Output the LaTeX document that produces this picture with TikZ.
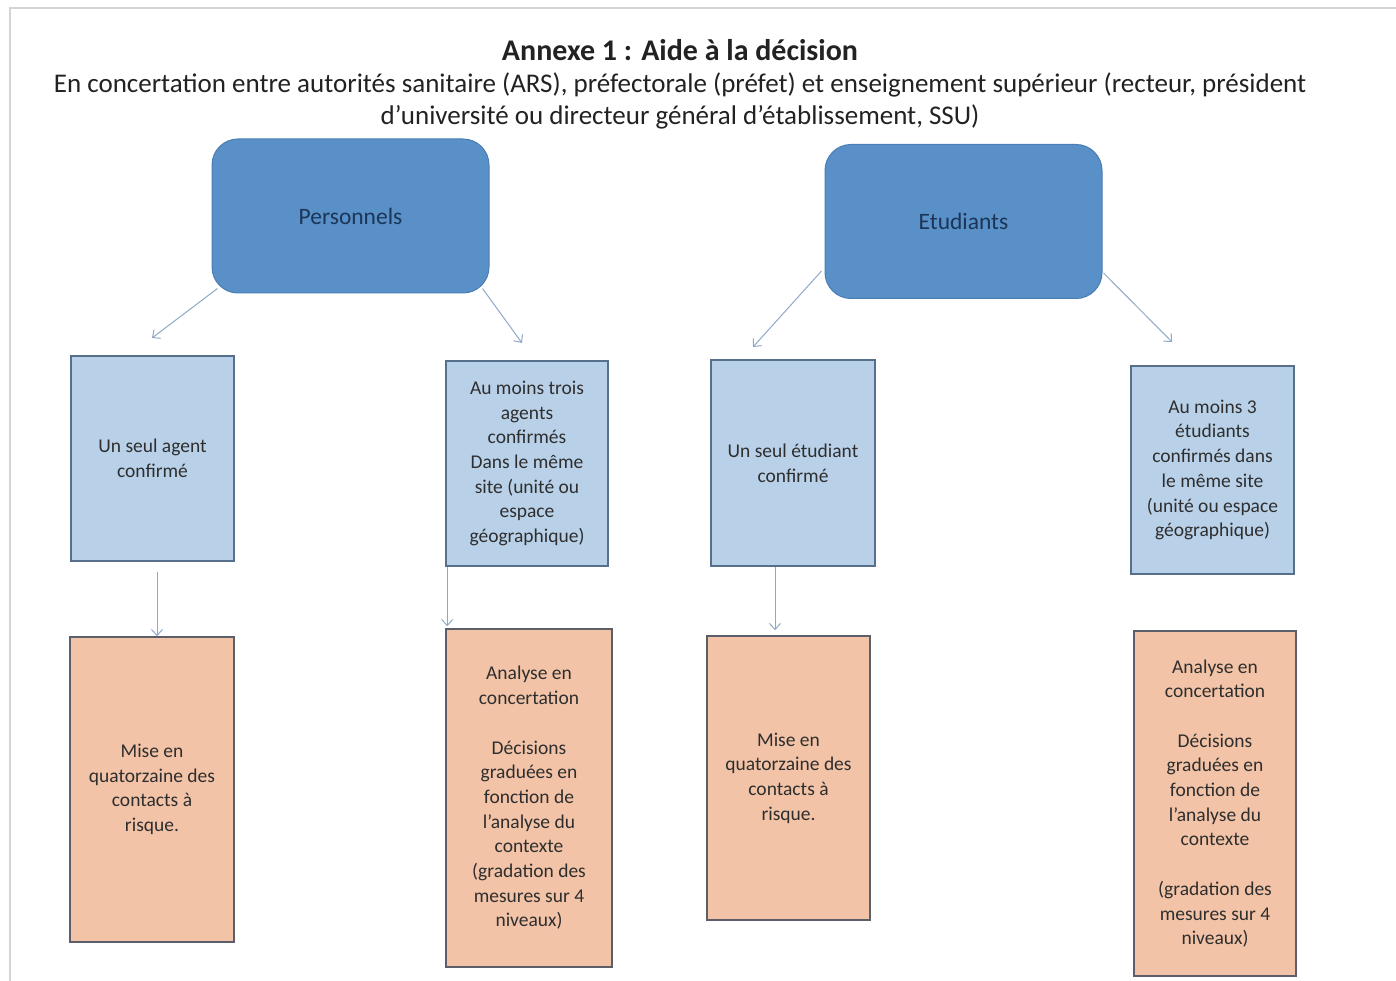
\documentclass[tikz,border=0pt]{standalone}
\usepackage{fontspec}
\setmainfont{Carlito}
\usetikzlibrary{arrows.meta}
\definecolor{framegray}{HTML}{D4D4D4}
\definecolor{titlecol}{HTML}{222222}
\definecolor{bigfill}{HTML}{5990C8}
\definecolor{bigdraw}{HTML}{4A7DB3}
\definecolor{bigtext}{HTML}{1C3557}
\definecolor{lbfill}{HTML}{B9D1E8}
\definecolor{lbdraw}{HTML}{56708C}
\definecolor{sfill}{HTML}{F2C3A7}
\definecolor{sdraw}{HTML}{5A5F6A}
\definecolor{boxtext}{HTML}{2E2E2E}
\definecolor{arrcol}{HTML}{8FA9C8}
\tikzset{
  bigbox/.style={rectangle, rounded corners=26pt, fill=bigfill, draw=bigdraw, line width=1pt,
    minimum width=277pt, minimum height=154pt, inner sep=0pt, text=bigtext,
    font=\fontsize{23.5}{27}\selectfont},
  lbox/.style={rectangle, fill=lbfill, draw=lbdraw, line width=1.6pt, inner sep=0pt,
    align=center, text=boxtext, font=\fontsize{19.5}{24.7}\selectfont},
  sbox/.style={rectangle, fill=sfill, draw=sdraw, line width=1.6pt, inner sep=0pt,
    align=center, text=boxtext, font=\fontsize{19.5}{24.7}\selectfont},
  arr/.style={draw=arrcol, line width=1pt, -{Straight Barb[length=6pt,width=11pt]}},
}
\begin{document}
\begin{tikzpicture}[x=1pt,y=-1pt]
\useasboundingbox (0,0) rectangle (1396,981);
\fill[white] (0,0) rectangle (1396,981);
\draw[framegray, line width=1.2pt] (10,981) -- (10,8) -- (1396,8);
% titles
\node[font=\fontsize{30}{34}\selectfont\bfseries, text=titlecol] (title) at (680,50) {Annexe 1 : Aide à la décision};
\node[font=\fontsize{27}{32}\selectfont, text=titlecol, align=center] (sub) at (680,101)
  {En concertation entre autorités sanitaire (ARS), préfectorale (préfet) et enseignement supérieur (recteur, président\\
   d’université ou directeur général d’établissement, SSU)};
% top boxes
\node[bigbox] (pers) at (350.5,216) {Personnels};
\node[bigbox] (etud) at (963.5,221.5) {Etudiants};
% light blue boxes
\node[lbox, minimum width=163pt, minimum height=205pt] (a1) at (152.5,458.5) {Un seul agent\\confirmé};
\node[lbox, minimum width=162pt, minimum height=205pt] (a2) at (527,463.5)
  {Au moins trois\\agents\\confirmés\\Dans le même\\site (unité ou\\espace\\géographique)};
\node[lbox, minimum width=164pt, minimum height=206pt] (a3) at (793,463) {Un seul étudiant\\confirmé};
\node[lbox, minimum width=163pt, minimum height=208pt] (a4) at (1212.5,470)
  {Au moins 3\\étudiants\\confirmés dans\\le même site\\(unité ou espace\\géographique)};
% salmon boxes
\node[sbox, minimum width=164pt, minimum height=305pt] (b1) at (152,789.5)
  {Mise en\\quatorzaine des\\contacts à\\risque.};
\node[sbox, minimum width=166pt, minimum height=338pt] (b2) at (529,798)
  {Analyse en\\concertation\\[24.7pt]Décisions\\graduées en\\fonction de\\l’analyse du\\contexte\\(gradation des\\mesures sur 4\\niveaux)};
\node[sbox, minimum width=163pt, minimum height=284pt] (b3) at (788.5,778)
  {Mise en\\quatorzaine des\\contacts à\\risque.};
\node[sbox, minimum width=162pt, minimum height=345pt] (b4) at (1215,803.5)
  {Analyse en\\concertation\\[24.7pt]Décisions\\graduées en\\fonction de\\l’analyse du\\contexte\\[24.7pt](gradation des\\mesures sur 4\\niveaux)};
% free ends
\coordinate (pl) at (152,338);
\coordinate (pr) at (522,343);
\coordinate (el) at (753,347);
\coordinate (er) at (1172,342);
% arrows
\draw[arr] ([shift={(6,-5)}]pers.south west) -- (pl);
\draw[arr] ([shift={(-7,-5)}]pers.south east) -- (pr);
\draw[arr] ([shift={(-3,-28)}]etud.south west) -- (el);
\draw[arr] ([shift={(1,-26)}]etud.south east) -- (er);
\draw[arr] ([shift={(4.5,10)}]a1.south) -- ([shift={(5,0)}]b1.north);
\draw[arr] ([shift={(2,0)}]a2.south west) -- ([shift={(2,-2)}]b2.north west);
\draw[arr] ([shift={(-18,0)}]a3.south) -- ([shift={(-13.5,-5)}]b3.north);
\end{tikzpicture}
\end{document}
